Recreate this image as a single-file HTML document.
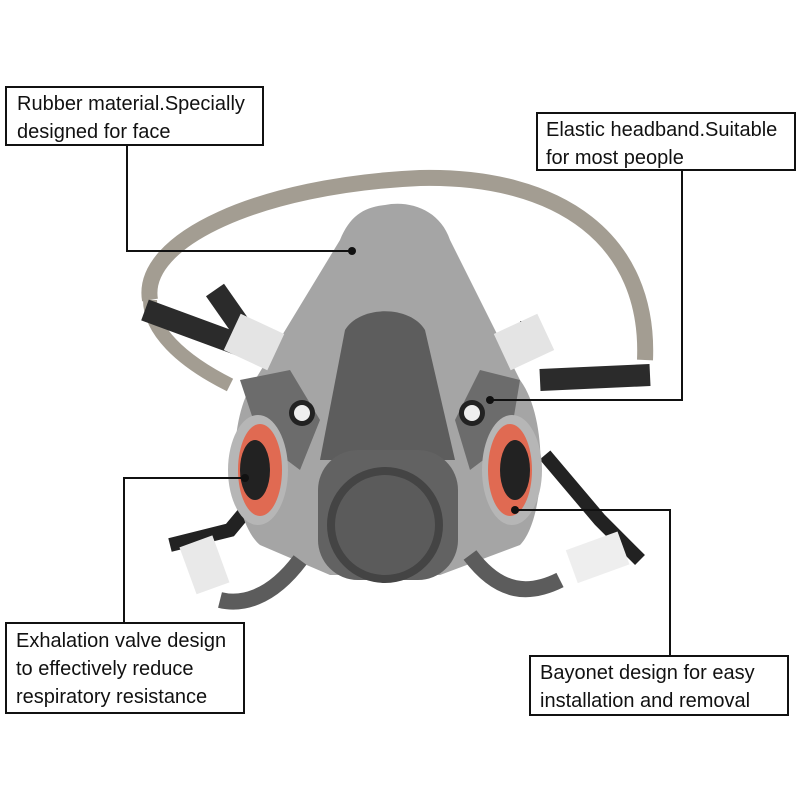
<!DOCTYPE html>
<html><head><style>
html,body{margin:0;padding:0;background:#fff;}
.b{position:absolute;border:2px solid #111;background:#fff;font-family:"Liberation Sans",Arial,sans-serif;color:#111;box-sizing:border-box;white-space:nowrap;}
.n{font-size:20px;line-height:28px;}
</style></head><body>
<div style="position:relative;width:800px;height:800px;overflow:hidden;">
<svg width="800" height="800" style="position:absolute;left:0;top:0">
<!-- headband -->
<path d="M150,300 C140,240 260,185 420,178 C560,175 650,240 645,360" fill="none" stroke="#a39d92" stroke-width="16"/>
<path d="M150,300 C150,330 180,360 230,385" fill="none" stroke="#a39d92" stroke-width="14"/>
<!-- elastic straps -->
<path d="M145,310 L240,345" stroke="#2b2b2b" stroke-width="22"/>
<path d="M215,290 L250,340" stroke="#2b2b2b" stroke-width="22"/>
<path d="M540,380 L650,375" stroke="#2b2b2b" stroke-width="22"/>
<path d="M520,330 L540,330" stroke="#2b2b2b" stroke-width="18"/>
<path d="M170,545 L230,530 L255,500" fill="none" stroke="#222" stroke-width="14"/>
<path d="M545,455 L600,520 L640,560" fill="none" stroke="#222" stroke-width="14"/>
<!-- mask body -->
<path d="M385,205 C410,200 440,210 450,240 L520,380 C550,420 545,520 520,545 L440,575 L330,575 L260,545 C230,520 225,420 255,380 L340,240 C350,215 365,207 385,205Z" fill="#a5a5a5"/>
<!-- center dark piece -->
<path d="M345,330 C360,305 410,305 425,330 L455,460 L320,460 Z" fill="#5d5d5d"/>
<rect x="318" y="450" width="140" height="130" rx="40" fill="#626262"/>
<circle cx="385" cy="525" r="58" fill="#444"/>
<circle cx="385" cy="525" r="50" fill="#5b5b5b"/>
<!-- side arms -->
<path d="M240,380 L290,370 L320,420 L300,470 L260,440Z" fill="#6c6c6c"/>
<path d="M520,380 L480,370 L455,420 L470,470 L510,440Z" fill="#6c6c6c"/>
<path d="M300,560 C270,600 240,605 220,600" fill="none" stroke="#5c5c5c" stroke-width="16"/>
<path d="M470,555 C500,595 530,595 560,580" fill="none" stroke="#5c5c5c" stroke-width="16"/>
<!-- clips -->
<rect x="230" y="322" width="48" height="40" fill="#e4e4e4" transform="rotate(25 254 342)"/>
<rect x="500" y="322" width="48" height="40" fill="#e4e4e4" transform="rotate(-25 524 342)"/>
<rect x="187" y="540" width="35" height="50" fill="#e9e9e9" transform="rotate(-20 204 565)"/>
<rect x="570" y="540" width="55" height="35" fill="#eee" transform="rotate(-20 597 557)"/>
<!-- cartridges -->
<ellipse cx="258" cy="470" rx="30" ry="55" fill="#b6b6b6"/>
<ellipse cx="260" cy="470" rx="22" ry="46" fill="#e06a52"/>
<ellipse cx="255" cy="470" rx="15" ry="30" fill="#222"/>
<ellipse cx="512" cy="470" rx="30" ry="55" fill="#b6b6b6"/>
<ellipse cx="510" cy="470" rx="22" ry="46" fill="#e06a52"/>
<ellipse cx="515" cy="470" rx="15" ry="30" fill="#222"/>
<!-- valves -->
<circle cx="302" cy="413" r="13" fill="#222"/><circle cx="302" cy="413" r="8" fill="#eee"/>
<circle cx="472" cy="413" r="13" fill="#222"/><circle cx="472" cy="413" r="8" fill="#eee"/>
<!-- leader lines -->
<g stroke="#111" stroke-width="2" fill="none">
<polyline points="127,145 127,251 352,251"/>
<polyline points="682,171 682,400 490,400"/>
<polyline points="124,622 124,478 245,478"/>
<polyline points="670,655 670,510 515,510"/>
</g>
<g fill="#111"><circle cx="352" cy="251" r="4"/><circle cx="490" cy="400" r="4"/><circle cx="245" cy="478" r="4"/><circle cx="515" cy="510" r="4"/></g>
</svg>
<div class="b n" style="left:5px;top:86px;width:259px;height:60px;padding:2px 0 0 10px;">Rubber material.Specially<br>designed for face</div>
<div class="b n" style="left:536px;top:112px;width:260px;height:59px;padding:2px 0 0 8px;">Elastic headband.Suitable<br>for most people</div>
<div class="b n" style="left:5px;top:622px;width:240px;height:92px;padding:3px 0 0 9px;">Exhalation valve design<br>to effectively reduce<br>respiratory resistance</div>
<div class="b n" style="left:529px;top:655px;width:260px;height:61px;padding:2px 0 0 9px;">Bayonet design for easy<br>installation and removal</div>
</div>
</body></html>
